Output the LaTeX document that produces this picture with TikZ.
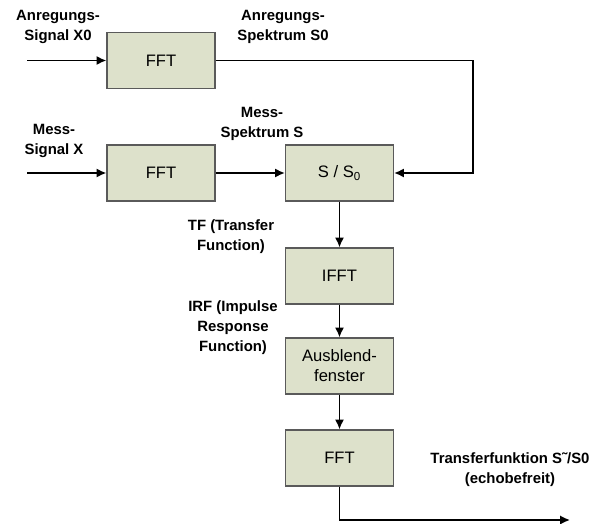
\documentclass[tikz,border=0pt]{standalone}
\usepackage{fontspec}
\setmainfont{Liberation Sans}
\usetikzlibrary{arrows.meta}
\definecolor{boxfill}{RGB}{221,225,203}
\definecolor{boxline}{RGB}{90,90,90}
\begin{document}
\begin{tikzpicture}[x=0.025cm,y=-0.025cm,line width=1.2pt,>={Latex[length=7pt,width=6.5pt]},
        block/.style={draw=boxline,line width=0.8pt,fill=boxfill,minimum width=2.7cm,minimum height=1.4cm,
            align=center,font=\fontsize{11.8}{14.2}\selectfont},
        lbl/.style={align=center,font=\fontsize{10.6}{14.2}\selectfont\bfseries}]
        \useasboundingbox (0,0) rectangle (604,524);

        % Bloecke
        \node[block] (fftA) at (161,60.5) {FFT};
        \node[block] (fftM) at (161,173) {FFT};
        \node[block] (quot) at (339.5,173) {S / S\textsubscript{0}};
        \node[block] (ifft) at (339.5,276) {IFFT};
        \node[block] (win) at (339.5,366) {Ausblend-\\fenster};
        \node[block] (fftT) at (339.5,458) {FFT};

        % Beschriftungen
        \node[lbl] (sigA) at (58,27) {Anregungs-\\Signal X0};
        \node[lbl] (specA) at (283,27) {Anregungs-\\Spektrum S0};
        \node[lbl] (sigM) at (54,141) {Mess-\\Signal X};
        \node[lbl] (specM) at (262,124) {Mess-\\Spektrum S};
        \node[lbl] (tf) at (231,237) {TF (Transfer\\Function)};
        \node[lbl] (irf) at (233,328) {IRF (Impulse\\Response\\Function)};
        \node[lbl] (res) at (510,470) {Transferfunktion S˜/S0\\(echobefreit)};

        % Verbindungen
        \coordinate (inA) at (27,60.5);
        \coordinate (inM) at (27,173);
        \coordinate (turn) at (473,60.5);
        \coordinate (out) at (570,520);
        \draw[->] (inA) -- (fftA.west);
        \draw[->] (inM) -- (fftM.west);
        \draw[->] (fftA.east) -- (turn) |- (quot.east);
        \draw[->] (fftM) -- (quot);
        \draw[->] (quot) -- (ifft);
        \draw[->] (ifft) -- (win);
        \draw[->] (win) -- (fftT);
        \draw[->] (fftT.south) |- (out);
\end{tikzpicture}
\end{document}
